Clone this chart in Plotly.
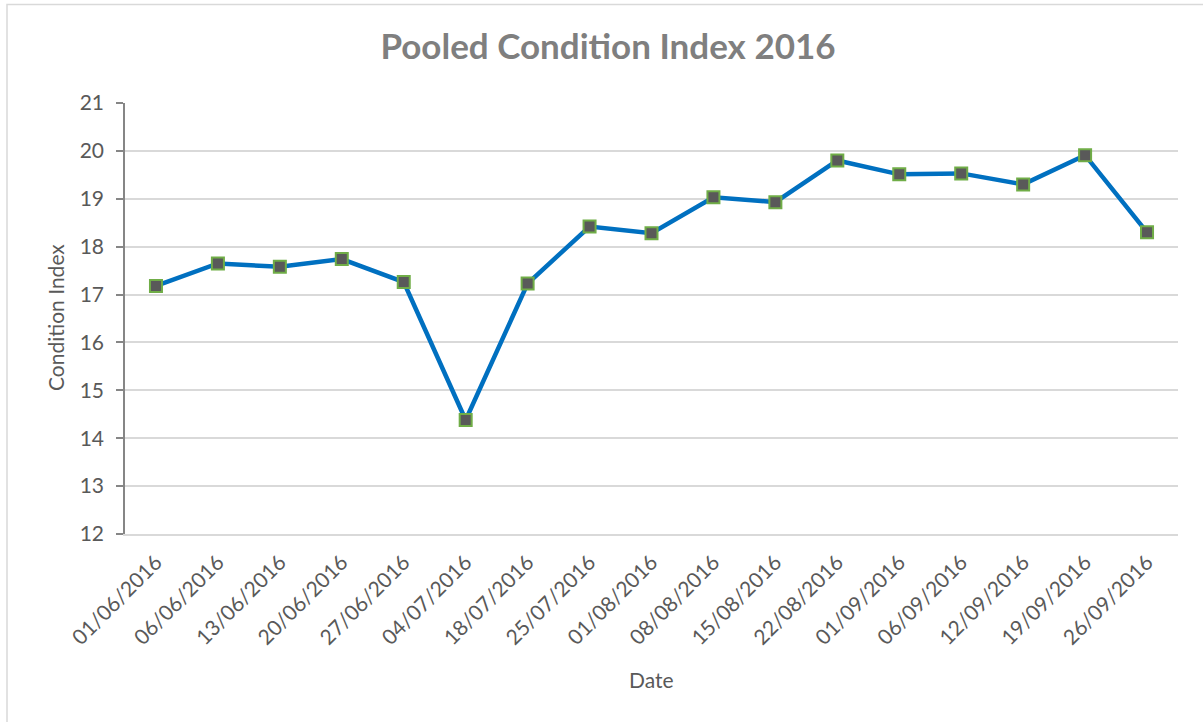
import plotly.graph_objects as go

dates = ["01/06/2016", "06/06/2016", "13/06/2016", "20/06/2016", "27/06/2016",
         "04/07/2016", "18/07/2016", "25/07/2016", "01/08/2016", "08/08/2016",
         "15/08/2016", "22/08/2016", "01/09/2016", "06/09/2016", "12/09/2016",
         "19/09/2016", "26/09/2016"]
condition_index = [17.18, 17.65, 17.58, 17.74, 17.26, 14.38, 17.23, 18.42, 18.28,
                   19.03, 18.93, 19.80, 19.51, 19.53, 19.30, 19.91, 18.30]
y_ticks = [12, 13, 14, 15, 16, 17, 18, 19, 20, 21]

W, H = 1203, 722
L, R, T, B = 125, 25, 103, 188
pw, ph = W - L - R, H - T - B

FONT = "Lato, 'Open Sans', sans-serif"

fig = go.Figure()
fig.add_trace(go.Scatter(
    x=dates, y=condition_index, mode="lines+markers",
    line=dict(color="#0070C0", width=4.5),
    marker=dict(symbol="square", size=12, color="#595959",
                line=dict(color="#70AD47", width=2)),
    showlegend=False, cliponaxis=False,
))

def px_x(p):
    return (p - L) / pw

def px_y(p):
    return (H - B - p) / ph

fig.update_layout(
    width=W, height=H,
    margin=dict(l=L, r=R, t=T, b=B),
    paper_bgcolor="white", plot_bgcolor="white",
    font=dict(family=FONT, color="#595959"),
    title=dict(text="<b>Pooled Condition Index 2016</b>",
               x=608 / W, xanchor="center",
               y=1 - 47 / H, yanchor="middle",
               font=dict(size=35, color="#7F7F7F", family=FONT)),
    xaxis=dict(
        type="category", tickangle=-45,
        tickfont=dict(size=21, color="#595959"),
        showgrid=False, showline=True, linecolor="#D9D9D9", linewidth=1.5,
        ticks="", range=[-0.5, len(dates) - 0.5], zeroline=False,
        ticklabelstandoff=6,
    ),
    yaxis=dict(
        range=[12, 21], tickvals=y_ticks, ticktext=[str(v) for v in y_ticks],
        tickfont=dict(size=21, color="#595959"),
        showgrid=True, gridcolor="#D9D9D9", gridwidth=1.5,
        showline=True, linecolor="#868686", linewidth=1.5,
        ticks="outside", ticklen=7, tickcolor="#868686", tickwidth=1.5,
        zeroline=False, ticklabelstandoff=8,
    ),
    annotations=[
        dict(text="Date", xref="paper", yref="paper", x=0.5, y=px_y(679),
             xanchor="center", yanchor="middle", showarrow=False,
             font=dict(size=21, color="#595959", family=FONT)),
        dict(text="Condition Index", xref="paper", yref="paper", x=px_x(55),
             y=px_y(318), xanchor="center", yanchor="middle", textangle=-90,
             showarrow=False, font=dict(size=21, color="#595959", family=FONT)),
    ],
    shapes=[
        dict(type="rect", xref="paper", yref="paper",
             x0=px_x(7), x1=px_x(1215), y0=px_y(735), y1=px_y(4.5),
             line=dict(color="#D9D9D9", width=1.5), fillcolor="rgba(0,0,0,0)",
             layer="below"),
    ],
)

fig.write_html("out.html", config={"displayModeBar": False},
               post_script="document.body.style.margin='0';document.body.style.overflow='hidden';")
